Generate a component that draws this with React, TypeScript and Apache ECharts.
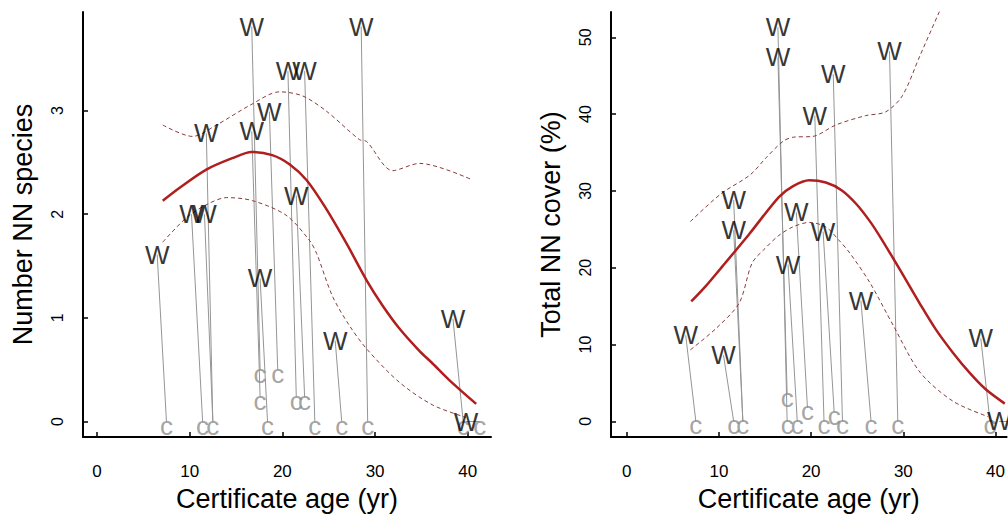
import React, { useEffect, useRef } from "react";
import * as echarts from "echarts";

// ---------- tick labels ----------
const xTicks = [0, 10, 20, 30, 40];
const leftYTicks = [0, 1, 2, 3];
const rightYTicks = [0, 10, 20, 30, 40, 50];

// ---------- left panel: Number NN species ----------
const leftWAge = [6.5, 10.2, 11.6, 11.8, 16.7, 16.7, 18.6, 20.6, 22.4, 21.5, 17.6, 25.7, 28.5, 38.4, 39.8];
const leftWVal = [1.61, 2.0, 2.0, 2.78, 3.81, 2.8, 2.99, 3.38, 3.38, 2.18, 1.38, 0.78, 3.81, 0.99, 0.0];
const leftCAge = [7.5, 11.4, 12.5, 17.6, 19.5, 17.6, 18.4, 21.5, 22.4, 23.5, 26.4, 29.2, 39.5, 41.3];
const leftCVal = [0, 0, 0, 0.5, 0.5, 0.24, 0, 0.24, 0.24, 0, 0, 0, 0, 0];
const leftPartner = [0, 1, 2, 2, 3, 5, 4, 7, 9, 8, 6, 10, 11, 12, 13];

const leftFit = [
  [7.1, 2.13], [9.0, 2.26], [11.8, 2.43], [14.6, 2.54], [16.7, 2.6], [18.9, 2.57],
  [20.8, 2.48], [22.6, 2.33], [24.6, 2.07], [26.9, 1.72], [29.1, 1.36], [30.8, 1.12],
  [32.6, 0.9], [34.8, 0.68], [36.2, 0.56], [38.0, 0.4], [40.9, 0.17],
];
const leftUpper = [
  [7.1, 2.86], [10.3, 2.75], [12.9, 2.86], [16.5, 3.05], [19.7, 3.18], [22.2, 3.14],
  [24.8, 2.99], [28.3, 2.72], [29.1, 2.7], [31.9, 2.42], [34.8, 2.49], [40.5, 2.33],
];
const leftLower = [
  [7.1, 1.73], [9.7, 1.97], [12.0, 2.1], [14.0, 2.16], [16.8, 2.13], [20.4, 1.99],
  [22.9, 1.75], [23.7, 1.62], [25.4, 1.21], [27.2, 0.93], [29.1, 0.7], [32.6, 0.38],
  [36.2, 0.16], [39.8, 0.04],
];

// ---------- right panel: Total NN cover (%) ----------
const rightWAge = [6.4, 10.5, 11.6, 11.6, 16.4, 16.4, 17.5, 18.4, 20.4, 21.3, 22.4, 25.4, 28.5, 38.4, 40.4];
const rightWVal = [11.2, 8.6, 28.8, 24.9, 51.3, 47.4, 20.4, 27.2, 39.8, 24.7, 45.2, 15.7, 48.2, 10.8, 0];
const rightCAge = [7.5, 11.6, 12.6, 17.4, 17.4, 18.5, 19.6, 21.4, 22.5, 23.4, 26.5, 29.4, 39.4, 41.5];
const rightCVal = [0, 0, 0, 3.6, 0, 0, 1.8, 0, 1.2, 0, 0, 0, 0, 0];
const rightPartner = [0, 1, 2, 2, 4, 3, 5, 6, 7, 8, 9, 10, 11, 12, 13];

const rightFit = [
  [7.0, 15.6], [8.5, 17.5], [10.4, 20.2], [13.3, 24.4], [16.5, 29.2], [18.0, 30.6],
  [19.8, 31.4], [21.6, 31.1], [23.3, 30.1], [24.9, 28.3], [26.4, 26.0], [27.7, 23.6],
  [29.9, 19.2], [31.8, 15.3], [33.5, 12.0], [35.4, 8.9], [37.2, 6.3], [38.9, 4.2], [41.0, 2.3],
];
const rightUpper = [
  [6.9, 26.0], [10.2, 29.6], [13.4, 32.1], [15.1, 34.3], [17.0, 36.5], [18.1, 37.0],
  [20.2, 37.1], [22.7, 38.6], [25.9, 39.8], [28.1, 40.3], [29.9, 42.4], [31.8, 47.6], [34.0, 53.6],
];
const rightLower = [
  [6.9, 9.3], [9.7, 12.1], [12.2, 15.4], [13.6, 20.6], [15.0, 22.5], [16.5, 24.2],
  [18.0, 25.3], [19.8, 25.9], [21.6, 25.3], [23.0, 23.6], [24.2, 21.9], [26.4, 18.0],
  [28.9, 12.5], [31.8, 6.4], [35.4, 2.6], [39.2, 0.6],
];

const FONT = "'Liberation Sans', Arial, sans-serif";

function panelSeries(
  idx: number,
  wAge: number[], wVal: number[], cAge: number[], cVal: number[], partner: number[],
  fit: number[][], upper: number[][], lower: number[][]
) {
  const common = { xAxisIndex: idx, yAxisIndex: idx };
  return [
    {
      ...common,
      type: "lines",
      coordinateSystem: "cartesian2d",
      z: 1,
      silent: true,
      lineStyle: { color: "#959595", width: 1, opacity: 1, curveness: 0 },
      data: wAge.map((a, i) => ({
        coords: [[a, wVal[i]], [cAge[partner[i]], cVal[partner[i]]]],
      })),
    },
    {
      ...common,
      type: "line",
      data: upper,
      smooth: 0.3,
      symbol: "none",
      z: 2,
      lineStyle: { color: "#8b3a3a", width: 1, type: [4, 3] },
    },
    {
      ...common,
      type: "line",
      data: lower,
      smooth: 0.3,
      symbol: "none",
      z: 2,
      lineStyle: { color: "#8b3a3a", width: 1, type: [4, 3] },
    },
    {
      ...common,
      type: "line",
      data: fit,
      smooth: 0.3,
      symbol: "none",
      z: 3,
      lineStyle: { color: "#b01e1e", width: 2.5 },
    },
    {
      ...common,
      type: "scatter",
      z: 4,
      symbolSize: 1,
      itemStyle: { color: "rgba(0,0,0,0)" },
      data: cAge.map((a, i) => [a, cVal[i]]),
      label: {
        show: true,
        position: "inside",
        offset: [0, 4],
        formatter: "c",
        fontSize: 26,
        color: "#8c8c8c",
        textBorderWidth: 0,
        fontFamily: FONT,
      },
    },
    {
      ...common,
      type: "scatter",
      z: 5,
      symbolSize: 1,
      itemStyle: { color: "rgba(0,0,0,0)" },
      data: wAge.map((a, i) => [a, wVal[i]]),
      label: {
        show: true,
        position: "inside",
        formatter: "W",
        fontSize: 26,
        color: "#000000",
        textBorderWidth: 0,
        fontFamily: FONT,
      },
    },
  ];
}

function xAxisCfg(idx: number, min: number, max: number) {
  return {
    type: "value",
    gridIndex: idx,
    min,
    max,
    name: "Certificate age (yr)",
    nameLocation: "middle",
    nameGap: 43,
    nameTextStyle: { fontSize: 27, color: "#000", fontFamily: FONT },
    axisLine: { show: true, onZero: false, lineStyle: { color: "#000", width: 2 } },
    axisTick: { show: true, inside: true, length: 5, customValues: xTicks, lineStyle: { color: "#000", width: 1.5 } },
    axisLabel: { show: true, customValues: xTicks, margin: 26, fontSize: 17, color: "#000", fontFamily: FONT },
    splitLine: { show: false },
  };
}

function yAxisCfg(idx: number, min: number, max: number, name: string, ticks: number[]) {
  return {
    type: "value",
    gridIndex: idx,
    min,
    max,
    name,
    nameLocation: "middle",
    nameGap: 47,
    nameTextStyle: { fontSize: 27, color: "#000", fontFamily: FONT },
    axisLine: { show: true, onZero: false, lineStyle: { color: "#000", width: 2 } },
    axisTick: { show: true, inside: true, length: 5, customValues: ticks, lineStyle: { color: "#000", width: 1.5 } },
    axisLabel: { show: true, customValues: ticks, rotate: 90, margin: 18, fontSize: 16, color: "#000", fontFamily: FONT },
    splitLine: { show: false },
  };
}

export default function App() {
  const ref = useRef<HTMLDivElement>(null);
  useEffect(() => {
    if (!ref.current) return;
    const chart = echarts.init(ref.current, undefined, { renderer: "svg" });
    chart.setOption({
      animation: false,
      backgroundColor: "#ffffff",
      textStyle: { fontFamily: FONT },
      grid: [
        { left: 83, top: 12, width: 408, height: 431 },
        { left: 611, top: 12, width: 397, height: 431 },
      ],
      xAxis: [xAxisCfg(0, -1.5, 42.5), xAxisCfg(1, -1.7, 41.2)],
      yAxis: [
        yAxisCfg(0, -0.15, 3.95, "Number NN species", leftYTicks),
        yAxisCfg(1, -2.06, 53.3, "Total NN cover (%)", rightYTicks),
      ],
      series: [
        ...panelSeries(0, leftWAge, leftWVal, leftCAge, leftCVal, leftPartner, leftFit, leftUpper, leftLower),
        ...panelSeries(1, rightWAge, rightWVal, rightCAge, rightCVal, rightPartner, rightFit, rightUpper, rightLower),
      ],
    });
    return () => chart.dispose();
  }, []);
  return (
    <div
      ref={ref}
      style={{ position: "fixed", left: 0, top: 0, width: 1008, height: 517, background: "#fff" }}
    />
  );
}
